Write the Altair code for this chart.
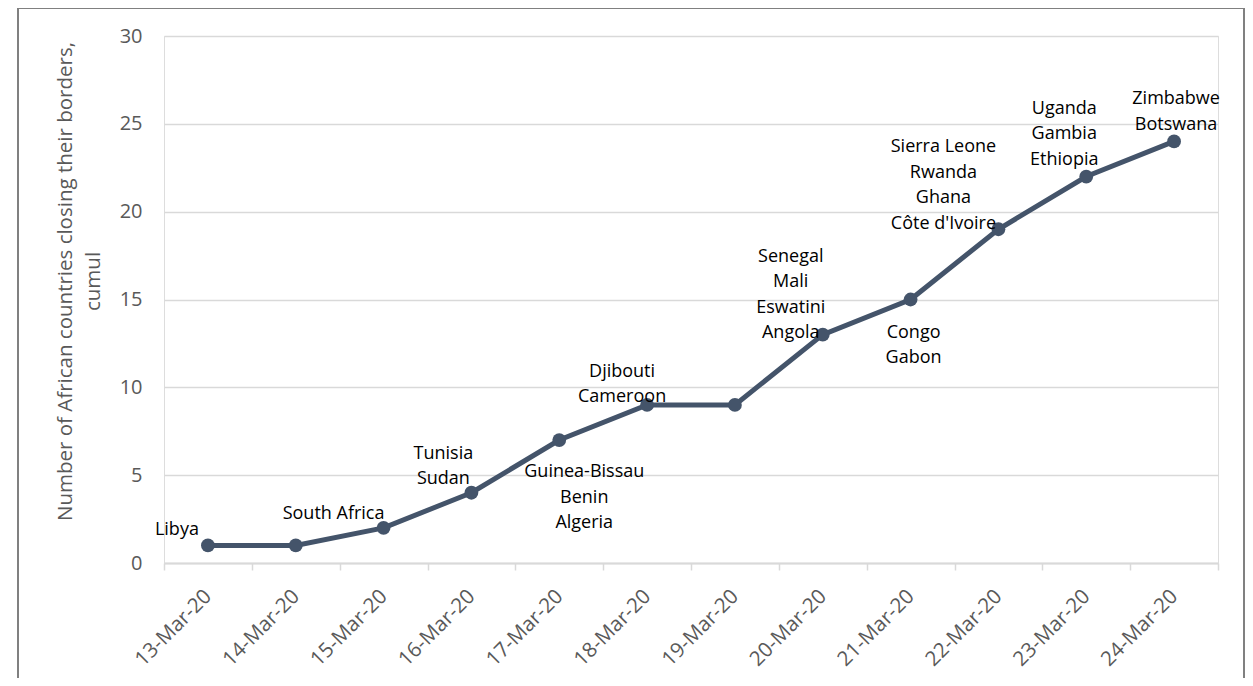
import altair as alt
import pandas as pd

# ---- data ----
dates = ["13-Mar-20", "14-Mar-20", "15-Mar-20", "16-Mar-20", "17-Mar-20", "18-Mar-20",
         "19-Mar-20", "20-Mar-20", "21-Mar-20", "22-Mar-20", "23-Mar-20", "24-Mar-20"]
cumul = [1, 1, 2, 4, 7, 9, 9, 13, 15, 19, 22, 24]

ann_dates = ["13-Mar-20", "15-Mar-20", "16-Mar-20", "17-Mar-20", "18-Mar-20",
             "20-Mar-20", "21-Mar-20", "22-Mar-20", "23-Mar-20", "24-Mar-20"]
ann_texts = [["Libya"], ["South Africa"], ["Tunisia", "Sudan"],
             ["Guinea-Bissau", "Benin", "Algeria"], ["Djibouti", "Cameroon"],
             ["Senegal", "Mali", "Eswatini", "Angola"], ["Congo", "Gabon"],
             ["Sierra Leone", "Rwanda", "Ghana", "Côte d'Ivoire"],
             ["Uganda", "Gambia", "Ethiopia"], ["Zimbabwe", "Botswana"]]

y_ticks = [0, 5, 10, 15, 20, 25, 30]

# ---- styles (label offsets in px: first line middle relative to point) ----
ann_offsets = [(-31, -15), (-50, -14), (-28, -39), (25, 32), (-25, -33),
               (-32, -78), (3, 33), (-55, -82), (-22, -68), (2, -42)]

FONT = "Open Sans"
LINE_COLOR = "#44546a"
GRAY_TXT = "#595959"

df = pd.DataFrame({"date": dates, "value": cumul})

x_enc = alt.X("date:N", title=None, bandPosition=0.5,
              scale=alt.Scale(type="band", domain=dates, paddingInner=0, paddingOuter=0),
              axis=alt.Axis(tickBand="extent", labelAngle=-45, labelAlign="right",
                            labelBaseline="middle", labelPadding=23, labelFontSize=20.5,
                            labelColor=GRAY_TXT, labelFont=FONT, domainColor="#d9d9d9",
                            domainWidth=2, tickColor="#d9d9d9", tickSize=7, tickWidth=1.5,
                            grid=False))
y_enc = alt.Y("value:Q",
              scale=alt.Scale(domain=[0, 30], nice=False),
              axis=alt.Axis(values=y_ticks, title=["Number of African countries closing their borders,", "cumul"],
                            titleFont=FONT, titleFontSize=20.5, titleFontWeight="normal",
                            titleColor=GRAY_TXT, titleX=-89, titleY=245, titleLineHeight=28,
                            labelFont=FONT, labelFontSize=20, labelColor=GRAY_TXT,
                            labelPadding=22, domain=False, ticks=False,
                            gridColor="#d9d9d9", gridWidth=1.5))

base = alt.Chart(df).encode(x=x_enc, y=y_enc)
line = base.mark_line(color=LINE_COLOR, strokeWidth=5)
pts = base.mark_point(filled=True, color=LINE_COLOR, size=190, opacity=1)

layers = [line, pts]
for d, t, (dx, dy) in zip(ann_dates, ann_texts, ann_offsets):
    adf = pd.DataFrame({"date": [d], "value": [cumul[dates.index(d)]], "label": ["\n".join(t)]})
    layers.append(
        alt.Chart(adf).mark_text(dx=dx, dy=dy, align="center", baseline="middle",
                                 lineBreak="\n", lineHeight=25.5, fontSize=18, font=FONT,
                                 color="black")
        .encode(x=alt.X("date:N", bandPosition=0.5, scale=alt.Scale(type="band", domain=dates)),
                y="value:Q", text="label:N")
    )

# outer frame (decoration)
fd = pd.DataFrame({"a": [0]})
frame_style = dict(color="#808080", strokeWidth=2, clip=False)
layers.append(alt.Chart(fd).mark_rule(**frame_style).encode(
    x=alt.value(-146), x2=alt.value(1080), y=alt.value(-28)))
layers.append(alt.Chart(fd).mark_rule(**frame_style).encode(
    x=alt.value(-146), y=alt.value(-28), y2=alt.value(642)))
layers.append(alt.Chart(fd).mark_rule(**frame_style).encode(
    x=alt.value(1080), y=alt.value(-28), y2=alt.value(642)))

chart = alt.layer(*layers).properties(
    width=1054, height=527,
    autosize=alt.AutoSizeParams(type="none"),
    padding={"left": 156, "top": 28, "right": 27, "bottom": 115},
).configure_view(stroke="#c8c8c8", strokeWidth=1.5).configure(background="white")

chart.save("out.html", embed_options={"renderer": "svg", "actions": False})
